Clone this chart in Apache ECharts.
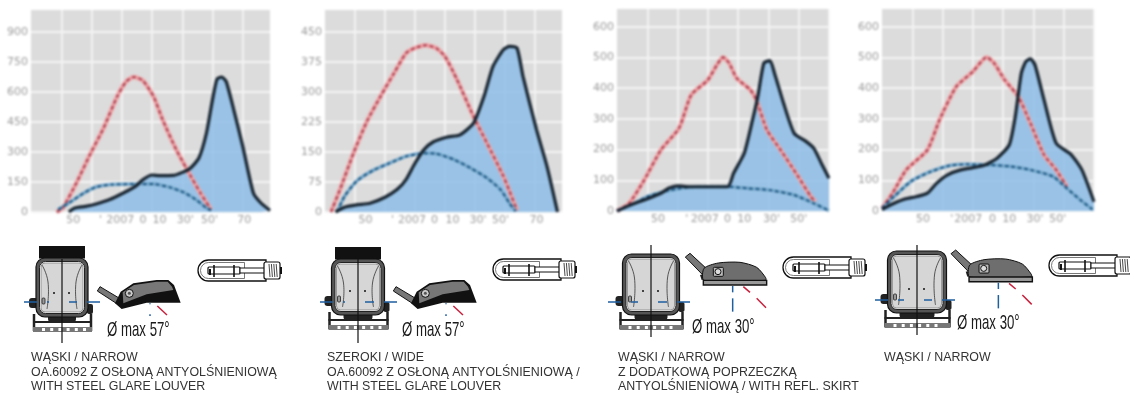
<!DOCTYPE html>
<html><head><meta charset="utf-8">
<style>html,body{margin:0;padding:0;background:#fff;overflow:hidden}
#top{position:absolute;left:0;top:0;width:1130px;height:234px;filter:blur(0.9px)}
#bottom{position:absolute;left:0;top:0;width:1130px;height:396px}</style>
<script src="https://cdn.jsdelivr.net/npm/echarts@6/dist/echarts.min.js"></script>
</head><body><div id="bottom"></div><div id="top"></div>
<script>
const black1=[[-55,0],[-51,20],[-44,28],[-37,40],[-28,62],[-19,95],[-11,128],[-6,162],[0,185],[5,182],[14,183],[25,217],[31,270],[36,395],[40,562],[43,665],[46,675],[49,653],[54,512],[60,328],[67,95],[72,45],[78,8]];
const red1=[[-63,0],[-59,20],[-50,145],[-41,287],[-32,420],[-23,578],[-17,653],[-12,675],[-6,657],[1,578],[7,462],[16,312],[25,187],[32,95],[39,12]];
const blue1=[[-62,12],[-55,45],[-45,95],[-37,125],[-27,137],[-12,140],[1,140],[12,123],[21,98],[29,62],[36,20],[39,8]];
const black2=[[-73,0],[-67,12],[-59,18],[-50,22],[-40,37],[-32,56],[-26,81],[-20,122],[-14,156],[-8,175],[1,187],[10,193],[19,222],[26,289],[32,364],[39,406],[43,414],[48,410],[52,339],[61,206],[68,114],[75,0]];
const red2=[[-76,0],[-70,56],[-61,147],[-52,227],[-43,289],[-34,347],[-26,397],[-20,410],[-13,417],[-6,410],[0,389],[8,331],[19,239],[28,172],[39,89],[43,52],[48,4]];
const blue2=[[-72,0],[-67,39],[-59,77],[-48,104],[-37,122],[-26,139],[-14,147],[-6,146],[6,131],[17,110],[28,85],[37,56],[43,22],[47,2]];
const black3=[[-80,0],[-71,20],[-62,36],[-51,58],[-46,74],[-40,82],[-32,79],[-7,79],[-3,123],[4,188],[9,286],[13,373],[17,482],[21,490],[24,449],[30,351],[37,253],[45,226],[50,204],[55,155],[60,107]];
const red3=[[-80,0],[-72,25],[-62,101],[-51,199],[-39,270],[-31,378],[-20,427],[-14,476],[-10,501],[-6,482],[-1,433],[8,395],[12,362],[19,264],[28,199],[39,117],[48,47],[51,30]];
const blue3=[[-80,0],[-69,23],[-60,47],[-49,63],[-38,74],[-27,79],[-7,79],[6,74],[21,68],[37,52],[50,25],[60,1]];
const black4=[[-80,5],[-72,25],[-65,39],[-57,47],[-50,58],[-44,90],[-37,117],[-28,134],[-13,148],[-4,172],[4,215],[8,308],[12,449],[15,487],[18,496],[21,476],[27,362],[35,221],[45,183],[52,134],[60,30]];
const red4=[[-80,9],[-73,58],[-64,134],[-50,199],[-42,297],[-31,405],[-20,454],[-11,501],[-6,482],[1,427],[10,373],[18,286],[27,183],[35,134],[42,79]];
const blue4=[[-80,9],[-72,47],[-61,96],[-48,128],[-35,148],[-24,152],[-9,150],[5,145],[18,134],[33,112],[42,74],[51,36],[59,5]];
const yTicks1=[0,150,300,450,600,750,900];
const yTicks2=[0,75,150,225,300,375,450];
const yTicks3=[0,100,200,300,400,500,600];
const xGrid=[-60,-40,-20,0,20,40,60];
const xText=["50","'","2007","0","10","30'","50'","70"];
const xLab1=[-52,-34,-21,-6,5,22,38,61];
const xLab2=[-53,-35,-22,-7,5,22,37,61];
const xLab3=[-53,-34,-22,-7,4,22,40];
const xLab4=[-53,-34,-23,-7,4,21,36];
const captions=[
 ["WĄSKI / NARROW","OA.60092 Z OSŁONĄ ANTYOLŚNIENIOWĄ","WITH STEEL GLARE LOUVER"],
 ["SZEROKI / WIDE","OA.60092 Z OSŁONĄ ANTYOLŚNIENIOWĄ /","WITH STEEL GLARE LOUVER"],
 ["WĄSKI / NARROW","Z DODATKOWĄ POPRZECZKĄ","ANTYOLŚNIENIOWĄ / WITH REFL. SKIRT"],
 ["WĄSKI / NARROW"]];
const beamText=["Ø max 57°","Ø max 57°","Ø max 30°","Ø max 30°"];

const panels=[
 {left:31,width:239,top:10,height:202,xmax:78,ymax:1010,yt:yTicks1,xl:xLab1,b:black1,r:red1,l:blue1},
 {left:325,width:237,top:10,height:202,xmax:78,ymax:505,yt:yTicks2,xl:xLab2,b:black2,r:red2,l:blue2},
 {left:617,width:212,top:9,height:202,xmax:60,ymax:658,yt:yTicks3,xl:xLab3,b:black3,r:red3,l:blue3},
 {left:882,width:212,top:9,height:202,xmax:60,ymax:658,yt:yTicks3,xl:xLab4,b:black4,r:red4,l:blue4}];
const grid=[],xAxis=[],yAxis=[],series=[];
const tickFont={color:'#9a9a9a',fontFamily:'DejaVu Sans',fontSize:11};
panels.forEach((p,i)=>{
 grid.push({left:p.left,top:p.top,width:p.width,height:p.height,show:true,backgroundColor:'#dcdcdc',borderWidth:0});
 xAxis.push({type:'value',gridIndex:i,min:-80,max:p.xmax,
  axisLine:{show:false},axisTick:{show:false,customValues:xGrid},
  splitLine:{show:true,lineStyle:{color:'#f4f4f4',width:1.8}},
  axisLabel:{...tickFont,margin:3,customValues:p.xl,formatter:v=>xText[p.xl.indexOf(v)]||''}});
 yAxis.push({type:'value',gridIndex:i,min:0,max:p.ymax,
  axisLine:{show:false},axisTick:{show:false,customValues:p.yt},
  splitLine:{show:true,lineStyle:{color:'#f4f4f4',width:1.8}},
  axisLabel:{...tickFont,margin:3,customValues:p.yt}});
 const base={type:'line',xAxisIndex:i,yAxisIndex:i,showSymbol:false,symbol:'none',smooth:0.2,silent:true,animation:false};
 series.push({...base,name:'area'+i,data:p.b,lineStyle:{width:0},areaStyle:{color:'#8dbde8',opacity:.85},z:2});
 series.push({...base,data:p.r,lineStyle:{color:'#f2a6a8',width:4.5},z:3});
 series.push({...base,data:p.r,lineStyle:{color:'#a33a4c',width:2,type:[4,2.5]},z:4});
 series.push({...base,data:p.l,lineStyle:{color:'#7fb0d2',width:3.5},z:3});
 series.push({...base,data:p.l,lineStyle:{color:'#164f7a',width:2,type:[4,2.5]},z:4});
 series.push({...base,data:p.b,lineStyle:{color:'#16232f',width:3.2},z:5});
});
const chartTop=echarts.init(document.getElementById('top'),null,{renderer:'canvas'});
chartTop.setOption({animation:false,grid,xAxis,yAxis,series});

/* ---- illustrations ---- */
const BL='#1f5fa0',RD='#c8203c',DK='#222';
const el=[];
function line(x1,y1,x2,y2,stroke,w,dash){el.push({type:'line',shape:{x1,y1,x2,y2},style:{stroke,lineWidth:w,lineDash:dash||null}});}
function rect(x,y,w,h,fill,r,stroke,lw){el.push({type:'rect',shape:{x,y,width:w,height:h,r:r||0},style:{fill,stroke:stroke||null,lineWidth:lw||0}});}
function poly(points,fill,stroke,lw){el.push({type:'polygon',shape:{points},style:{fill,stroke:stroke||null,lineWidth:lw||0}});}
function circ(cx,cy,r,fill,stroke,lw){el.push({type:'circle',shape:{cx,cy,r},style:{fill,stroke:stroke||null,lineWidth:lw||0}});}
function curve(points,stroke,lw){el.push({type:'polyline',shape:{points,smooth:.5},style:{stroke,fill:null,lineWidth:lw}});}

function front(f){
 const {cx,top:t,w,h,lt,lb,by,bl,br,louver}=f, l=cx-w/2, rr=l+w;
 if(louver) rect(cx-23,t-12,46,12.5,'#111');
 line(l-2,t+h-3,l-2,t+h+14,DK,2.5); line(rr+3,t+h-3,rr+3,t+h+14,DK,2.5);
 rect(l-3,t+h+4,w+7,2,DK);
 rect(l-3,t+h+10,w+7,5,'#777');
 for(let k=0;k<6;k++) rect(l+6+k*8.2,t+h+11,3,3,'#fff');
 rect(l-7,t+h-19,9,10,'#222',3); rect(rr-1,t+h-13,6,10,'#222',2);
 rect(l+12,t+h-3,w-24,8,'#222',3);
 rect(l,t,w,h,'#555',9,'#111',1.2);
 rect(l+3.5,t+3.5,w-7,h-7,'#fff',6,'#222',1);
 rect(l+5,t+5,w-10,h-10,'#d6d6d6',4,'#666',.6);
 curve([[l+6,t+7],[l+12,t+24],[l+11,t+h-8]],'#333',.8);
 curve([[rr-6,t+7],[rr-12,t+24],[rr-11,t+h-8]],'#333',.8);
 circ(cx-8,t+h-24,1,'#111'); circ(cx+7,t+h-24,1,'#111');
 rect(l+6,t+h-19,3,6,'#999',1,'#222',.8);
 line(cx,lt,cx,lb,'#111',1.2);
 const d=[13,10];
 line(bl,by,cx-13,by,BL,1.5,d); line(br,by,cx+7,by,BL,1.5,d);
}
function side57(dx){
 const X=v=>v/3+dx, Y=v=>v/3+235;
 poly([[X(300),Y(155)],[X(292),Y(168)],[X(352),Y(207)],[X(362),Y(192)]],'#777','#111',1);
 poly([[X(345),Y(205)],[X(362),Y(170)],[X(400),Y(145)],[X(470),Y(135)],[X(505),Y(135)],[X(522),Y(150)],[X(542),Y(203)],[X(440),Y(203)],[X(365),Y(222)]],'#111');
 poly([[X(368),Y(172)],[X(402),Y(150)],[X(470),Y(140)],[X(503),Y(140)],[X(516),Y(155)],[X(520),Y(165)],[X(440),Y(178)],[X(370),Y(205)]],'#777');
 circ(X(388),Y(175),4,'#ccc','#111',1); circ(X(388),Y(175),1.5,'#555');
 line(X(450),Y(205),X(450),Y(208),BL,1.5); line(X(450),Y(238),X(450),Y(243),BL,1.5);
 line(X(472),Y(213),X(501),Y(240),RD,1.5);
}
function side30(dx,dy){
 const X=v=>v/3+dx, Y=v=>v/3+dy;
 poly([[X(256),Y(66)],[X(270),Y(55)],[X(338),Y(118)],[X(322),Y(134)]],'#777','#111',1);
 poly([[X(300),Y(120)],[X(332),Y(112)],[X(332),Y(130)],[X(305),Y(135)]],'#222');
 el.push({type:'polygon',shape:{smooth:.25,points:[[X(312),Y(136)],[X(312),Y(100)],[X(355),Y(84)],[X(420),Y(82)],[X(470),Y(97)],[X(497),Y(128)],[X(497),Y(136)]]},style:{fill:'#6e6e6e',stroke:'#111',lineWidth:1}});
 rect(X(340),Y(97),X(370)-X(340),Y(124)-Y(97),'#bbb',1,'#111',1);
 circ(X(354),Y(110),3,'#ddd','#111',1);
 rect(X(310),Y(136),X(500)-X(310),Y(150)-Y(136),'#999',0,'#111',1.4);
 line(X(398),Y(153),X(398),Y(172),BL,1.5); line(X(398),Y(190),X(398),Y(230),BL,1.5);
 line(X(430),Y(155),X(450),Y(172),RD,1.5); line(X(470),Y(190),X(498),Y(218),RD,1.5);
}
function bulb(x,y){
 rect(x,y,68,21,'#fff',[10.5,0,0,10.5],'#111',1.3);
 rect(x+2.5,y+2.5,44,16,'#fff',[8,0,0,8],'#555',.8);
 rect(x+10,y+7,32,7,'#fff',1,'#111',1.2);
 line(x+16,y+5,x+16,y+17,'#111',1.6); line(x+36,y+5,x+36,y+17,'#111',1.6); line(x+12,y+9,x+12,y+15,'#111',2);
 rect(x+42,y+8,26,5,'#fff',0,'#111',1);
 rect(x+66,y+2,16,17,'#fff',2,'#111',1.2);
 for(let k=0;k<4;k++) line(x+71+k*2.4,y+4,x+72+k*2.4,y+17,'#333',.9);
 rect(x+82,y+7,2,7,'#111');
}
const F=[
 {cx:62,top:258,w:52,h:59,lt:259,lb:343,by:302,bl:24,br:100,louver:true},
 {cx:358,top:259,w:53,h:56,lt:259,lb:343,by:302,bl:320,br:397,louver:true},
 {cx:651,top:254,w:57,h:61,lt:245,lb:337,by:302,bl:608,br:690,louver:false},
 {cx:917,top:251,w:59,h:62,lt:245,lb:335,by:300,bl:875,br:955,louver:false}];
F.forEach(front);
side57(0); side57(296); side30(600,235); side30(865.7,231.7);
bulb(198,260); bulb(493,259); bulb(783,257); bulb(1049,255);
const beamPos=[[107,330],[402,330],[692,327],[957,323]];
beamPos.forEach((p,i)=>el.push({type:'text',x:p[0],y:p[1],scaleX:.63,style:{text:beamText[i],fill:'#1a1a1a',font:'21px "Liberation Sans"',verticalAlign:'middle'}}));
const capX=[31,327,618,884], capY=[358,372.5,387];
captions.forEach((c,i)=>c.forEach((s,j)=>el.push({type:'text',x:capX[i],y:capY[j],style:{text:s,fill:'#333',font:'12.4px "Liberation Sans"',verticalAlign:'middle'}})));
const chartBottom=echarts.init(document.getElementById('bottom'),null,{renderer:'canvas'});
chartBottom.setOption({animation:false,graphic:{elements:el.map(e=>({...e,silent:true}))}});
</script></body></html>
